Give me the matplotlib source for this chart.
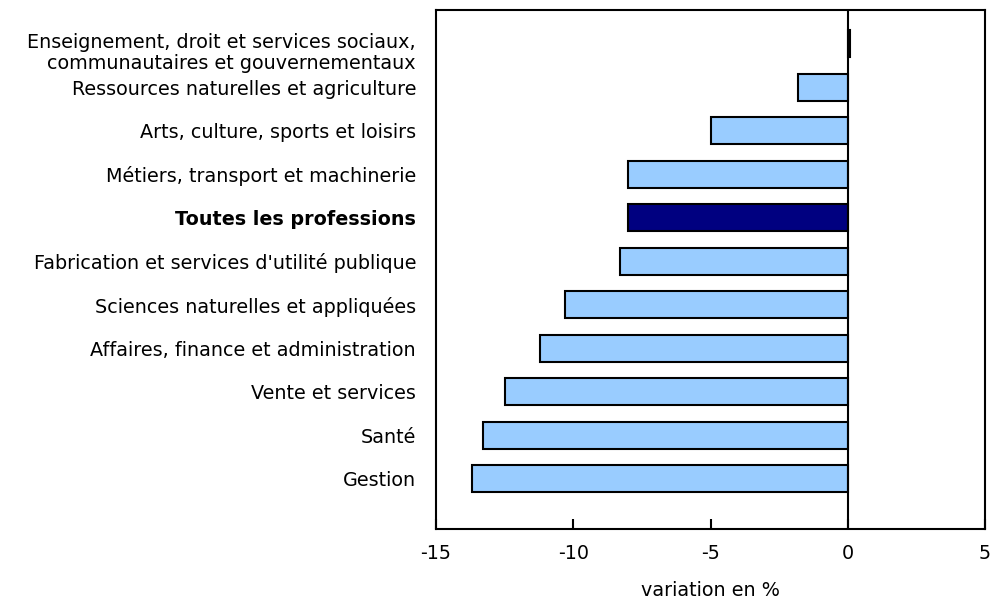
import matplotlib
matplotlib.use("Agg")
import matplotlib.pyplot as plt

categories = [
    "Gestion",
    "Santé",
    "Vente et services",
    "Affaires, finance et administration",
    "Sciences naturelles et appliquées",
    "Fabrication et services d'utilité publique",
    "Toutes les professions",
    "Métiers, transport et machinerie",
    "Arts, culture, sports et loisirs",
    "Ressources naturelles et agriculture",
    "Enseignement, droit et services sociaux,\ncommunautaires et gouvernementaux",
]
values = [-13.7, -13.3, -12.5, -11.2, -10.3, -8.3, -8.0, -8.0, -5.0, -1.8, 0.1]
highlight = "Toutes les professions"
xticks = [-15, -10, -5, 0, 5]
xlabel = "variation en %"

plt.rcParams['font.family'] = ['DejaVu Sans']
FS = 13.8

fig = plt.figure(figsize=(9.92, 6.04), dpi=100)
ax = fig.add_axes([436/992, 1 - 529/604, (985-436)/992, (529-10)/604])

ypos = list(range(len(categories)))
colors = ["#000080" if c == highlight else "#99CCFF" for c in categories]
ax.barh(ypos, values, height=0.62, color=colors, edgecolor="black", linewidth=1.5, zorder=3)
ax.axvline(0, color="black", linewidth=1.5, zorder=4)

ax.set_xlim(-15, 5)
ax.set_ylim(-1.15, len(categories) - 0.22)
ax.set_xticks(xticks)
ax.set_xticklabels([str(t) for t in xticks], fontsize=FS)
ax.tick_params(axis='x', direction='in', length=7, width=1.5, pad=11)

ax.set_yticks(ypos)
labels = [c if "\n" not in c else "" for c in categories]
ax.set_yticklabels(labels, fontsize=FS)
ax.tick_params(axis='y', length=0, pad=14.4)
for lab, c in zip(ax.get_yticklabels(), categories):
    if c == highlight:
        lab.set_fontweight("bold")

for i, c in enumerate(categories):
    if "\n" in c:
        ax.annotate(c, xy=(0, i), xycoords=ax.get_yaxis_transform(),
                    xytext=(-14.4, -6.3), textcoords="offset points",
                    ha="right", va="center", fontsize=FS, linespacing=1.12,
                    multialignment="right", annotation_clip=False)

for s in ax.spines.values():
    s.set_linewidth(1.5)
    s.set_color("black")

ax.set_xlabel(xlabel, fontsize=FS, labelpad=13)

fig.savefig("out.png", dpi=100)
